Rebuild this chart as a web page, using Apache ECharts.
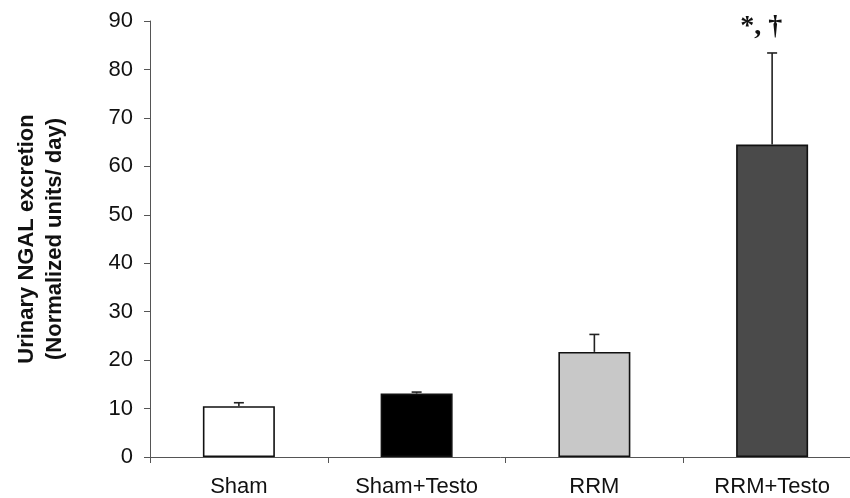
<!DOCTYPE html>
<html>
<head>
<meta charset="utf-8">
<script src="https://cdn.jsdelivr.net/npm/echarts@6/dist/echarts.min.js"></script>
<style>
html,body{margin:0;padding:0;background:#fff;}
#chart{width:850px;height:498px;}
</style>
</head>
<body>
<div id="chart"></div>
<script>
var categories = ['Sham', 'Sham+Testo', 'RRM', 'RRM+Testo'];
var means = [10.5, 13.1, 21.7, 64.5];
var upperErrors = [11.2, 13.4, 25.3, 83.4];
var barColors = ['#ffffff', '#000000', '#c8c8c8', '#4a4a4a'];
var annotations = ['', '', '', '*, \u2020'];
var yTicks = { min: 0, max: 90, interval: 10 };

var chart = echarts.init(document.getElementById('chart'));
var font = '"Liberation Sans", Arial, sans-serif';

chart.setOption({
  animation: false,
  grid: { left: 150, width: 711, top: 21, bottom: 41, outerBoundsMode: 'none', containLabel: false },
  xAxis: {
    type: 'category',
    data: categories,
    axisLine: { lineStyle: { color: '#555', width: 1 } },
    axisTick: { show: true, alignWithLabel: false, length: 6, lineStyle: { color: '#555' } },
    axisLabel: { color: '#111', fontSize: 22, fontFamily: font, margin: 19 }
  },
  yAxis: {
    type: 'value',
    min: yTicks.min, max: yTicks.max, interval: yTicks.interval,
    name: 'Urinary NGAL excretion\n(Normalized units/ day)',
    nameLocation: 'middle',
    nameRotate: 90,
    nameGap: 81,
    nameTextStyle: { fontSize: 22, fontWeight: 'bold', fontFamily: font, color: '#111', lineHeight: 28 },
    axisLine: { show: true, lineStyle: { color: '#555', width: 1 } },
    axisTick: { show: true, length: 6, lineStyle: { color: '#555' } },
    splitLine: { show: false },
    axisLabel: { color: '#111', fontSize: 22, fontFamily: font, margin: 17 }
  },
  series: [
    {
      type: 'bar',
      barWidth: 72,
      data: means.map(function (v, i) {
        return { value: v, itemStyle: { color: barColors[i] } };
      }),
      itemStyle: { borderColor: '#111', borderWidth: 1.6 },
      z: 2
    },
    {
      type: 'custom',
      z: 3,
      data: upperErrors.map(function (u, i) { return [i, means[i], u]; }),
      renderItem: function (params, api) {
        var i = api.value(0);
        var base = api.coord([i, api.value(1)]);
        var top = api.coord([i, api.value(2)]);
        var half = 5;
        var children = [
          { type: 'line', shape: { x1: base[0], y1: base[1], x2: top[0], y2: top[1] }, style: { stroke: '#222', lineWidth: 1.6 } },
          { type: 'line', shape: { x1: top[0] - half, y1: top[1], x2: top[0] + half, y2: top[1] }, style: { stroke: '#222', lineWidth: 1.6 } }
        ];
        var ann = annotations[params.dataIndex];
        if (ann) {
          children.push({
            type: 'text',
            style: {
              text: ann, x: top[0] - 11, y: top[1] - 26,
              align: 'center', verticalAlign: 'middle',
              font: 'bold 28px "Liberation Serif", "Times New Roman", serif',
              fill: '#111'
            }
          });
        }
        return { type: 'group', children: children };
      }
    }
  ]
});
</script>
</body>
</html>
